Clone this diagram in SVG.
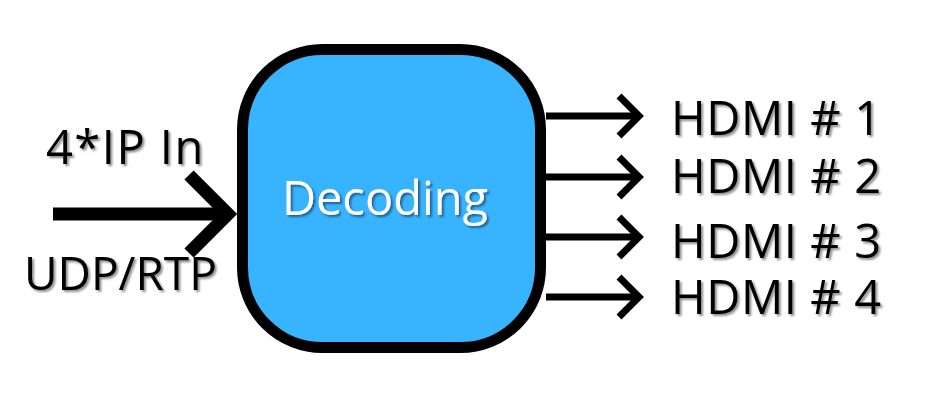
<svg xmlns="http://www.w3.org/2000/svg" width="927" height="410" viewBox="0 0 927 410">
<defs>
<filter id="sh" x="-10%" y="-20%" width="130%" height="150%">
<feDropShadow dx="2" dy="2" stdDeviation="0.8" flood-color="#000" flood-opacity="0.45"/>
</filter>
<filter id="shw" x="-10%" y="-20%" width="130%" height="150%">
<feDropShadow dx="2" dy="2" stdDeviation="0.8" flood-color="#0a3a66" flood-opacity="0.7"/>
</filter>
</defs>
<style>
.lbl{font-family:"Open Sans","Noto Sans",sans-serif;fill:#000;filter:url(#sh)}
.out{font-size:47px;letter-spacing:0.6px}
.wire{fill:none;stroke:#000;stroke-linecap:butt;stroke-linejoin:miter}
.thin{stroke-width:7}
.thick{stroke-width:13}
</style>
<rect width="927" height="410" fill="#fff"/>
<g id="connectors">
<line class="wire thick" x1="53" y1="214" x2="228" y2="214"/>
<polyline class="wire thick" points="189,175 228,214 189,253"/>
<line class="wire thin" x1="546" y1="116" x2="638" y2="116"/>
<polyline class="wire thin" points="619,96 639,116 619,136"/>
<line class="wire thin" x1="546" y1="177" x2="638" y2="177"/>
<polyline class="wire thin" points="619,157 639,177 619,197"/>
<line class="wire thin" x1="546" y1="237" x2="638" y2="237"/>
<polyline class="wire thin" points="619,217 639,237 619,257"/>
<line class="wire thin" x1="546" y1="297" x2="638" y2="297"/>
<polyline class="wire thin" points="619,277 639,297 619,317"/>
</g>
<g id="decoding">
<rect x="242.5" y="49.5" width="298" height="298" rx="80" ry="80" fill="#38b4ff" stroke="#000" stroke-width="11"/>
<text x="385" y="215" text-anchor="middle" font-family="'Open Sans','Noto Sans',sans-serif" font-size="47" fill="#fff" filter="url(#shw)">Decoding</text>
</g>
<g id="input-labels">
<text class="lbl" x="46" y="164" font-size="47" letter-spacing="1.5">4*IP In</text>
<text class="lbl" x="24" y="290" font-size="46">UDP/RTP</text>
</g>
<g id="hdmi1"><text class="lbl out" x="671" y="135">HDMI # 1</text></g>
<g id="hdmi2"><text class="lbl out" x="671" y="193">HDMI # 2</text></g>
<g id="hdmi3"><text class="lbl out" x="671" y="258">HDMI # 3</text></g>
<g id="hdmi4"><text class="lbl out" x="671" y="314">HDMI # 4</text></g>
</svg>
